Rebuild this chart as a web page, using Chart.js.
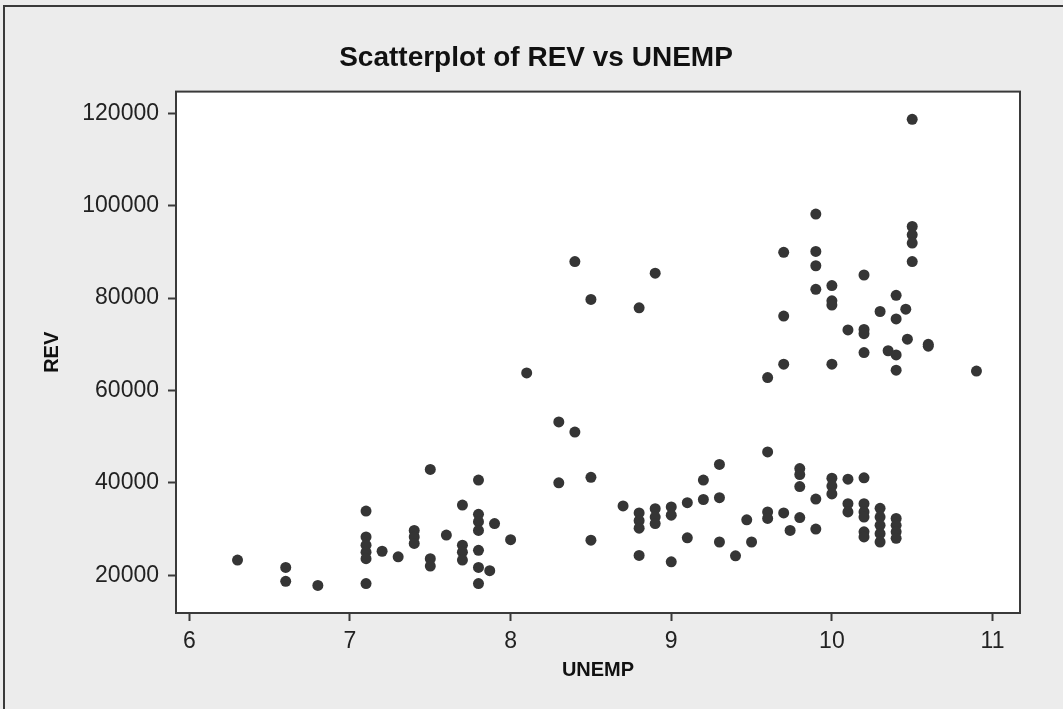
<!DOCTYPE html>
<html>
<head>
<meta charset="utf-8">
<title>Scatterplot of REV vs UNEMP</title>
<script src="https://cdn.jsdelivr.net/npm/chart.js@4.4.1/dist/chart.umd.min.js"></script>
<style>
  html, body { margin: 0; padding: 0; background: #ececec; overflow: hidden; }
  #wrap { position: relative; width: 1063px; height: 709px; }
  #frame { position: absolute; left: 3px; top: 5px; width: 1100px; height: 800px;
           border: 2px solid #3a3a3a; pointer-events: none; }
  canvas { position: absolute; left: 0; top: 0; }
</style>
</head>
<body>
<div id="wrap">
  <canvas id="scatter" width="1063" height="709"></canvas>
  <div id="frame"></div>
</div>
<script>
// Dados (UNEMP no eixo x, REV no eixo y)
const unemp = [
  6.3, 6.6, 6.6, 6.8,
  7.1, 7.1, 7.1, 7.1, 7.1, 7.1, 7.2, 7.3, 7.4, 7.4, 7.4,
  7.5, 7.5, 7.5, 7.6, 7.7, 7.7, 7.7, 7.7,
  7.8, 7.8, 7.8, 7.8, 7.8, 7.8, 7.8, 7.87, 7.9, 8.0,
  8.1, 8.3, 8.3, 8.4, 8.4, 8.5, 8.5, 8.5, 8.7,
  8.8, 8.8, 8.8, 8.8, 8.8, 8.9, 8.9, 8.9, 8.9,
  9.0, 9.0, 9.0, 9.1, 9.1, 9.2, 9.2, 9.3, 9.3, 9.3, 9.4, 9.47, 9.5,
  9.6, 9.6, 9.6, 9.6, 9.7, 9.7, 9.7, 9.7, 9.74,
  9.8, 9.8, 9.8, 9.8, 9.9, 9.9, 9.9, 9.9, 9.9, 9.9,
  10.0, 10.0, 10.0, 10.0, 10.0, 10.0, 10.0, 10.1, 10.1, 10.1, 10.1,
  10.2, 10.2, 10.2, 10.2, 10.2, 10.2, 10.2, 10.2, 10.2, 10.2,
  10.3, 10.3, 10.3, 10.3, 10.3, 10.3, 10.35,
  10.4, 10.4, 10.4, 10.4, 10.4, 10.4, 10.4, 10.4, 10.46, 10.47,
  10.5, 10.5, 10.5, 10.5, 10.5, 10.6, 10.6, 10.9
];
const rev = [
  23300, 21700, 18700, 17800,
  33900, 28300, 26500, 25000, 23600, 18200, 25200, 24000, 29700, 28300, 26900,
  42900, 23600, 22000, 28700, 35200, 26500, 25000, 23300,
  40600, 33200, 31600, 29700, 25400, 21700, 18200, 21000, 31200, 27700,
  63800, 53200, 40000, 87900, 51000, 79700, 41200, 27600, 35000,
  77900, 33500, 31800, 30200, 24300, 85400, 34400, 32600, 31200,
  34800, 33000, 22900, 35700, 28100, 40600, 36400, 44000, 36800, 27200, 24200, 32000, 27200,
  62800, 46700, 33700, 32300, 89900, 76100, 65700, 33500, 29700,
  43100, 41800, 39200, 32500, 98200, 90100, 87000, 81900, 36500, 30000,
  82700, 79400, 78500, 65700, 41000, 39300, 37600, 73100, 40800, 35500, 33700,
  85000, 73200, 72300, 68200, 41100, 35500, 33700, 32600, 29400, 28300,
  77100, 34500, 32600, 30800, 29000, 27200, 68600,
  80600, 75500, 67700, 64400, 32300, 30800, 29400, 28000, 77600, 71100,
  118700, 95500, 93700, 91900, 87900, 70000, 69600, 64200
];
const xTicks = [6, 7, 8, 9, 10, 11];
const yTicks = [20000, 40000, 60000, 80000, 100000, 120000];

const pontos = unemp.map((u, i) => ({ x: u, y: rev[i] }));

// Fundo branco e moldura da área do gráfico
const plotFrame = {
    id: 'plotFrame',
    beforeDraw(chart) {
        const { ctx, chartArea: a } = chart;
        ctx.save();
        ctx.fillStyle = '#ffffff';
        ctx.fillRect(a.left, a.top, a.right - a.left, a.bottom - a.top);
        ctx.restore();
    },
    afterDraw(chart) {
        const { ctx, chartArea: a } = chart;
        ctx.save();
        ctx.strokeStyle = '#3a3a3a';
        ctx.lineWidth = 2;
        ctx.strokeRect(a.left, a.top, a.right - a.left, a.bottom - a.top);
        ctx.restore();
    }
};

const tickFont = { family: '"Liberation Sans", Arial, sans-serif', size: 23 };
const titleFont = { family: '"Liberation Sans", Arial, sans-serif', size: 20, weight: 'bold' };

const config = {
    type: 'scatter',
    data: {
        datasets: [{
            label: 'REV',
            data: pontos,
            backgroundColor: '#353535',
            borderWidth: 0,
            pointRadius: 5.5,
            pointHoverRadius: 5.5
        }]
    },
    options: {
        responsive: false,
        animation: false,
        layout: { padding: { left: 52, right: 43, top: 0, bottom: 0 } },
        plugins: {
            legend: { display: false },
            tooltip: { enabled: false },
            title: {
                display: true,
                text: 'Scatterplot of REV vs UNEMP',
                color: '#111111',
                font: { family: '"Liberation Sans", Arial, sans-serif', size: 28, weight: 'bold' },
                padding: { top: 41, bottom: 17 }
            }
        },
        scales: {
            x: {
                type: 'linear',
                min: 5.917,
                max: 11.171,
                afterBuildTicks: (s) => { s.ticks = xTicks.map(v => ({ value: v })); },
                afterFit: (s) => { s.height = 96; },
                border: { display: false },
                grid: { drawOnChartArea: false, drawTicks: true, tickLength: 8, tickWidth: 2, tickColor: '#3a3a3a' },
                ticks: { color: '#222222', font: tickFont, padding: 7 },
                title: { display: true, text: 'UNEMP', color: '#111111', font: titleFont, padding: { top: 0, bottom: 27 } }
            },
            y: {
                type: 'linear',
                min: 11830,
                max: 124700,
                afterBuildTicks: (s) => { s.ticks = yTicks.map(v => ({ value: v })); },
                afterFit: (s) => { s.width = 124; },
                border: { display: false },
                grid: { drawOnChartArea: false, drawTicks: true, tickLength: 8, tickWidth: 2, tickColor: '#3a3a3a' },
                ticks: { color: '#222222', font: tickFont, padding: 9, callback: (v) => String(v) },
                title: { display: true, text: 'REV', color: '#111111', font: titleFont, padding: { top: -12, bottom: 0 } }
            }
        }
    },
    plugins: [plotFrame]
};

const grafico = new Chart(document.getElementById('scatter'), config);
</script>
</body>
</html>
